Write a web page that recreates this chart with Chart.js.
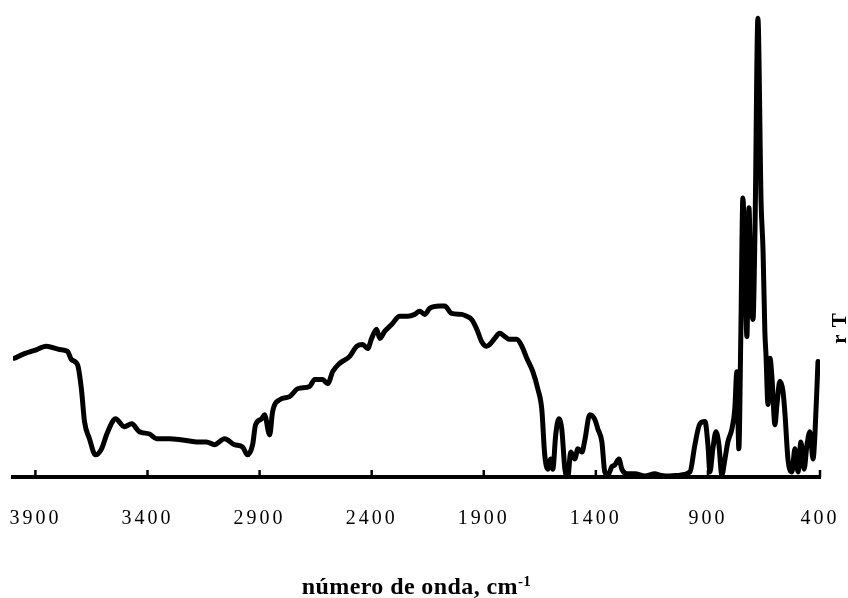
<!DOCTYPE html>
<html>
<head>
<meta charset="utf-8">
<title>Espectro IR</title>
<script src="https://cdn.jsdelivr.net/npm/chart.js@4.4.1/dist/chart.umd.min.js"></script>
<style>
  html, body { margin: 0; padding: 0; background: #fff; }
  #wrap { width: 848px; height: 598px; }
</style>
</head>
<body>
<div id="wrap"><canvas id="spectrum" width="848" height="598"></canvas></div>
<script>
// Spectrum: wavenumber (cm-1) and relative transmittance
const wavenumbers = [
  3994, 3949, 3904, 3851, 3793, 3757, 3739, 3712, 3695, 3681,
  3659, 3632, 3605, 3583, 3556, 3543, 3503, 3471, 3436, 3391,
  3360, 3302, 3244, 3181, 3137, 3101, 3056, 3012, 2976, 2954,
  2931, 2918, 2891, 2878, 2855, 2842, 2811, 2766, 2730, 2677,
  2654, 2619, 2596, 2574, 2543, 2498, 2467, 2440, 2418, 2400,
  2378, 2364, 2342, 2311, 2275, 2239, 2208, 2186, 2163, 2141,
  2096, 2074, 2043, 1998, 1976, 1954, 1931, 1909, 1887, 1873,
  1851, 1829, 1806, 1784, 1753, 1730, 1708, 1681, 1659, 1641,
  1628, 1614, 1601, 1592, 1579, 1565, 1552, 1538, 1525, 1512,
  1494, 1480, 1462, 1449, 1427, 1404, 1391, 1373, 1360, 1346,
  1329, 1315, 1297, 1284, 1262, 1226, 1181, 1136, 1114, 1070,
  1025, 980, 958, 936, 913, 900, 891, 878, 864, 851,
  838, 824, 811, 793, 780, 771, 762, 753, 744, 735,
  726, 717, 708, 699, 690, 677, 663, 654, 646, 641,
  632, 623, 614, 601, 592, 579, 565, 556, 543, 525,
  512, 498, 485, 471, 458, 445, 431, 422, 409
];
const transmittance = [
  25.7, 26.7, 27.4, 28.3, 27.6, 27.2, 25.4, 24.3, 19.1, 12.0,
  8.3, 4.8, 6.1, 9.1, 12.0, 12.6, 10.9, 11.5, 9.8, 9.3,
  8.3, 8.3, 8.0, 7.6, 7.6, 7.0, 8.3, 7.0, 6.5, 4.8,
  7.0, 11.3, 12.6, 13.5, 9.1, 14.1, 16.7, 17.4, 19.1, 19.6,
  21.1, 21.1, 20.2, 22.8, 24.6, 26.1, 28.3, 28.7, 27.8, 30.0,
  32.0, 30.0, 31.5, 33.0, 34.8, 34.8, 35.2, 35.9, 35.2, 36.5,
  37.0, 37.0, 35.4, 35.2, 34.8, 34.1, 32.0, 29.3, 28.3, 28.7,
  30.0, 31.1, 30.4, 29.8, 29.8, 28.3, 25.7, 22.8, 19.1, 14.6,
  4.8, 1.7, 3.9, 1.7, 9.1, 12.6, 10.4, 1.7, 0.0, 5.4,
  3.9, 6.1, 5.4, 8.0, 13.5, 12.4, 10.4, 7.6, 1.1, 0.4,
  2.2, 2.6, 3.9, 1.7, 0.7, 0.7, 0.2, 0.7, 0.4, 0.2,
  0.4, 1.1, 7.0, 11.5, 12.0, 7.0, 1.1, 6.1, 9.8, 7.0,
  0.4, 3.9, 7.6, 10.4, 14.8, 22.8, 6.1, 31.5, 60.4, 46.7,
  30.4, 58.3, 40.2, 34.1, 53.3, 99.3, 59.8, 48.9, 31.5, 26.5,
  15.7, 25.7, 21.3, 11.3, 15.7, 20.7, 18.5, 13.5, 3.9, 1.1,
  6.1, 1.1, 7.6, 1.7, 7.0, 9.8, 3.9, 9.8, 25.0
];
const tickValues = [3900, 3400, 2900, 2400, 1900, 1400, 900, 400];
const tickLabels = ['3900', '3400', '2900', '2400', '1900', '1400', '900', '400'];
const xTitle = 'número de onda, cm';
const xTitleSup = '-1';
const yTitle = 'r T';

const SERIF = '"Liberation Serif", "Times New Roman", serif';

/**
 * Inward tick marks, the x title with its superscript and the rotated y label
 */
const axisDecor = {
  id: 'axisDecor',
  beforeDraw(chart) {
    // the scanned tick labels are widely spaced
    chart.ctx.letterSpacing = '3px';
  },
  afterDraw(chart) {
    const { ctx, chartArea, scales: { x } } = chart;
    ctx.save();
    ctx.strokeStyle = '#000';
    ctx.lineWidth = 2.5;
    x.ticks.forEach((t, i) => {
      const px = x.getPixelForTick(i);
      ctx.beginPath();
      ctx.moveTo(px, chartArea.bottom);
      ctx.lineTo(px, chartArea.bottom - 7);
      ctx.stroke();
    });

    ctx.fillStyle = '#000';
    ctx.textAlign = 'left';
    ctx.textBaseline = 'alphabetic';
    ctx.letterSpacing = '0.4px';
    ctx.font = `bold 24px ${SERIF}`;
    const mainW = ctx.measureText(xTitle).width;
    ctx.font = `bold 15px ${SERIF}`;
    const supW = ctx.measureText(xTitleSup).width;
    const start = (chartArea.left + chartArea.right) / 2 - (mainW + supW) / 2;
    const base = chart.height - 4;
    ctx.font = `bold 24px ${SERIF}`;
    ctx.fillText(xTitle, start, base);
    ctx.font = `bold 15px ${SERIF}`;
    ctx.fillText(xTitleSup, start + mainW, base - 8);

    ctx.letterSpacing = '1px';
    ctx.translate(chart.width - 2, 328);
    ctx.rotate(-Math.PI / 2);
    ctx.textAlign = 'center';
    ctx.font = `bold 21px ${SERIF}`;
    ctx.fillText(yTitle, 0, 0);
    ctx.restore();
  }
};

const ctx = document.getElementById('spectrum').getContext('2d');
new Chart(ctx, {
  type: 'line',
  data: {
    datasets: [{
      data: wavenumbers.map((w, i) => ({ x: w, y: transmittance[i] })),
      borderColor: '#000',
      borderWidth: 5,
      pointRadius: 0,
      fill: false,
      cubicInterpolationMode: 'monotone',
      borderJoinStyle: 'round',
      borderCapStyle: 'round'
    }]
  },
  options: {
    responsive: false,
    animation: false,
    layout: { padding: { left: 13, right: 28, top: 15, bottom: 67 } },
    plugins: {
      legend: { display: false },
      tooltip: { enabled: false }
    },
    scales: {
      x: {
        type: 'linear',
        reverse: true,
        min: 400,
        max: 4000,
        afterBuildTicks: scale => {
          scale.ticks = tickValues.map(v => ({ value: v }));
        },
        // invisible outward ticks only push the labels down
        grid: { display: true, drawOnChartArea: false, drawTicks: true, tickLength: 30, tickColor: 'rgba(0,0,0,0)' },
        border: { display: true, color: '#000', width: 4 },
        ticks: {
          autoSkip: false,
          maxRotation: 0,
          padding: 0,
          color: '#000',
          font: { family: SERIF, size: 20 },
          callback: (value, index) => tickLabels[index]
        }
      },
      y: { display: false, min: 0, max: 100 }
    }
  },
  plugins: [axisDecor]
});
</script>
</body>
</html>
